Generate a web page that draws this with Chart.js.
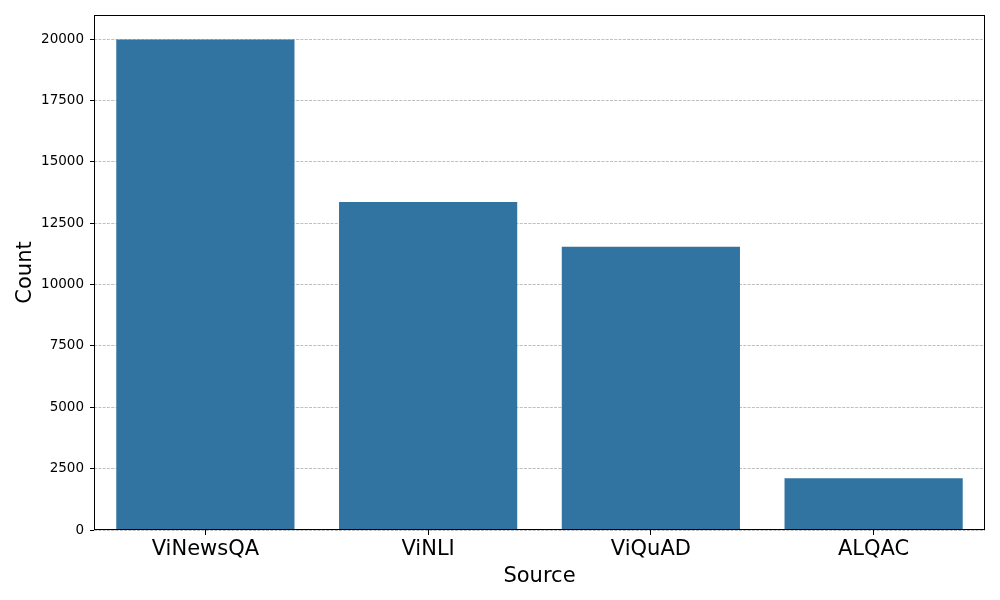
<!DOCTYPE html>
<html>
<head>
<meta charset="utf-8">
<script src="https://cdn.jsdelivr.net/npm/chart.js@4"></script>
<style>
  html, body { margin: 0; padding: 0; background: #fff; }
  #wrap { width: 1000px; height: 600px; }
</style>
</head>
<body>
<div id="wrap"><canvas id="sourceChart"></canvas></div>
<script>
const sources = ['ViNewsQA', 'ViNLI', 'ViQuAD', 'ALQAC'];
const counts = [19980, 13365, 11535, 2105];
const yTicks = [0, 2500, 5000, 7500, 10000, 12500, 15000, 17500, 20000];

// full black frame around the plot area
const frame = {
    id: 'frame',
    afterDraw(chart) {
        const a = chart.chartArea, c = chart.ctx;
        c.save();
        c.strokeStyle = '#000';
        c.lineWidth = 1;
        c.strokeRect(a.left + 0.5, a.top + 0.5, a.right - a.left - 1, a.bottom - a.top - 1);
        c.restore();
    }
};

const ctx = document.getElementById('sourceChart').getContext('2d');
new Chart(ctx, {
    type: 'bar',
    data: {
        labels: sources,
        datasets: [{
            data: counts,
            backgroundColor: '#3274a1',
            borderWidth: 0,
            categoryPercentage: 1,
            barPercentage: 0.8
        }]
    },
    options: {
        responsive: true,
        maintainAspectRatio: false,
        animation: false,
        layout: { padding: { top: 15, right: 15, left: 0, bottom: 0 } },
        plugins: {
            legend: { display: false },
            tooltip: { enabled: false }
        },
        scales: {
            y: {
                min: 0,
                max: 20980,
                z: 1,
                afterBuildTicks(scale) {
                    scale.ticks = yTicks.map(v => ({ value: v }));
                },
                afterFit(scale) { scale.width = 94; },
                grid: {
                    color: 'rgba(160,160,160,0.85)',
                    lineWidth: 0.8,
                    tickLength: 4,
                    tickColor: '#000',
                    tickWidth: 1
                },
                border: { display: false, dash: [3, 1.3] },
                ticks: {
                    color: '#000',
                    padding: 6,
                    font: { family: 'DejaVu Sans', size: 13.5 },
                    callback: v => String(v)
                },
                title: {
                    display: true,
                    text: 'Count',
                    color: '#000',
                    padding: { top: 13, bottom: 0 },
                    font: { family: 'DejaVu Sans', size: 21 }
                }
            },
            x: {
                afterFit(scale) { scale.height = 70; },
                grid: {
                    offset: false,
                    drawOnChartArea: false,
                    tickLength: 5,
                    tickColor: '#000'
                },
                border: { display: false },
                ticks: {
                    color: '#000',
                    padding: 2,
                    font: { family: 'DejaVu Sans', size: 21 }
                },
                title: {
                    display: true,
                    text: 'Source',
                    color: '#000',
                    padding: { top: 0, bottom: 11 },
                    font: { family: 'DejaVu Sans', size: 21 }
                }
            }
        }
    },
    plugins: [frame]
});
</script>
</body>
</html>
